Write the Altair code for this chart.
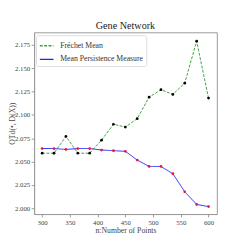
import altair as alt
import pandas as pd

n_points = [300, 321.4, 342.9, 364.3, 385.7, 407.1, 428.6, 450, 471.4, 492.9, 514.3, 535.7, 557.1, 578.6, 600]
frechet = [2.059, 2.059, 2.077, 2.059, 2.059, 2.073, 2.090, 2.087, 2.096, 2.119, 2.127, 2.122, 2.134, 2.179, 2.118]
mean_pers = [2.064, 2.064, 2.063, 2.064, 2.064, 2.0624, 2.0617, 2.061, 2.0517, 2.0448, 2.0448, 2.037, 2.0177, 2.0041, 2.0018]
series_names = ["Fréchet Mean", "Mean Persistence Measure"]
x_ticks = [300, 350, 400, 450, 500, 550, 600]
y_ticks = [2.000, 2.025, 2.050, 2.075, 2.100, 2.125, 2.150, 2.175]

rows = []
for x, a, b in zip(n_points, frechet, mean_pers):
    rows.append({"n": x, "v": a, "s": series_names[0]})
    rows.append({"n": x, "v": b, "s": series_names[1]})
df = pd.DataFrame(rows)

FONT = "Liberation Serif"
W, H = 189, 188
xs = alt.X("n:Q", scale=alt.Scale(domain=[285.5, 615], nice=False, zero=False),
           axis=alt.Axis(values=x_ticks, title="n:Number of Points", grid=False, format="d"))
ys = alt.Y("v:Q", scale=alt.Scale(domain=[1.9938, 2.1885], nice=False, zero=False),
           axis=alt.Axis(values=y_ticks, title="OTd(•, D(X))", grid=False, format=".3f",
                         titleX=-22.5, titleY=H / 2, titleBaseline="middle", titleAlign="center",
                         titleAngle=270))

lines = alt.Chart(df).mark_line(strokeWidth=1).encode(
    x=xs, y=ys,
    color=alt.Color("s:N", scale=alt.Scale(domain=series_names, range=["#3aa33a", "#2323ff"]),
                    legend=alt.Legend(title=None, orient="none", legendX=2, legendY=3,
                                      symbolType="stroke", symbolSize=200, symbolStrokeWidth=1.5,
                                      labelFont=FONT, labelFontSize=8, labelColor="#333",
                                      fillColor="white", strokeColor="#ddd", padding=3,
                                      cornerRadius=2, rowPadding=2, labelOffset=6)),
    strokeDash=alt.StrokeDash("s:N", scale=alt.Scale(domain=series_names, range=[[3, 1.5], [1, 0]]),
                              legend=None),
)

points = alt.Chart(df).mark_point(filled=True, size=8, opacity=1).encode(
    x=xs, y=ys,
    fill=alt.Fill("s:N", scale=alt.Scale(domain=series_names, range=["#000000", "#e8163a"]), legend=None),
)

chart = alt.layer(lines, points).properties(
    width=W, height=H,
    title=alt.TitleParams("Gene Network", font=FONT, fontSize=10.5, fontWeight="normal", color="#222", offset=0.5),
    autosize=alt.AutoSizeParams(type="none"),
    padding={"left": 27, "top": 21, "right": 25, "bottom": 32},
).configure_view(stroke="#999", strokeWidth=1).configure_axis(
    labelFont=FONT, titleFont=FONT, labelFontSize=7, titleFontSize=8, titleFontWeight="normal",
    labelColor="#444", titleColor="#444", domainColor="#999", tickColor="#999", tickSize=3,
    labelPadding=1.5, titlePadding=2,
)

chart.save("out.html", embed_options={"renderer": "svg", "actions": False})
